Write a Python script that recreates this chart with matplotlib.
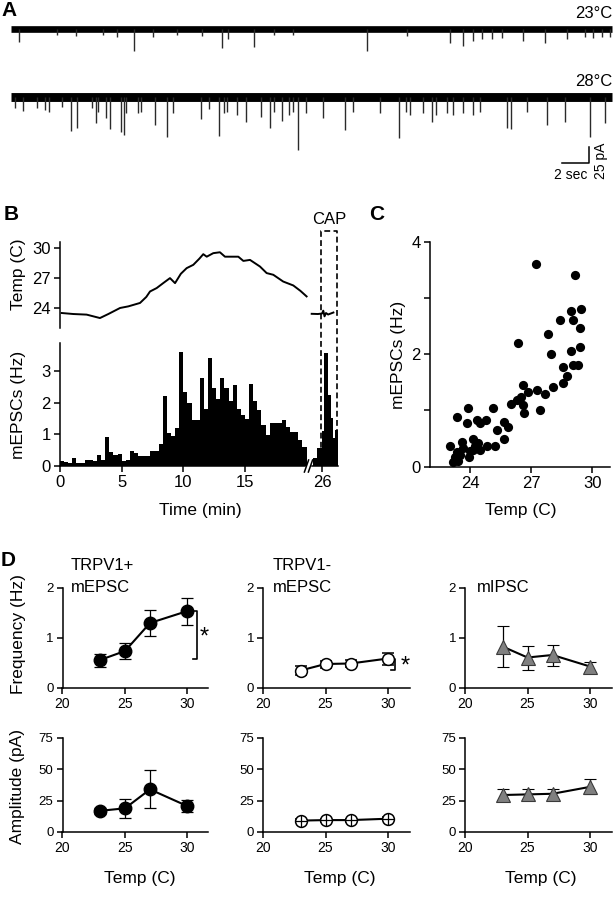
import numpy as np
import matplotlib
matplotlib.use('Agg')
import matplotlib.pyplot as plt

# ------------------------------------------------------------------ data
# Panel A: event times (s) and amplitudes (pA) of the two traces
trace1_event_t = [1.41, 4.22, 5.63, 7.63, 8.67, 9.93, 11.33, 13.11, 14.96, 16.44, 16.89, 18.81,
                  20.30, 21.70, 27.19, 30.15, 33.33, 34.30, 35.04, 35.70, 36.44, 37.19, 38.74,
                  40.37, 42.00, 43.33, 43.93, 44.59, 45.19]
trace1_event_pA = [20, 9, 11, 9, 12.5, 34, 12.5, 9, 11, 30, 16, 28, 9, 9, 34, 11, 22, 27, 19,
                   16, 16, 14, 19, 22, 16, 12.5, 14, 12.5, 12.5]
trace2_event_t = [1.11, 1.70, 2.74, 3.33, 3.63, 4.59, 5.26, 5.70, 6.81, 7.11, 7.26, 7.85,
                  8.15, 8.96, 9.19, 9.33, 10.22, 10.44, 11.48, 12.37, 12.81, 14.89, 15.48, 16.22,
                  16.59, 16.81, 17.56, 18.22, 19.33, 20.00, 20.30, 20.89, 21.41, 21.70, 22.07, 22.67,
                  23.93, 25.56, 26.15, 28.15, 29.56, 30.07, 30.37, 31.33, 32.00, 32.30, 33.11, 33.56,
                  34.30, 35.04, 35.56, 37.56, 37.85, 39.04, 40.52, 41.85, 43.70, 44.81]
trace2_event_pA = [17, 22, 17, 20, 23, 16, 53, 48, 17, 41, 23, 33, 50, 55, 59, 25, 25, 23,
                   44, 62, 25, 34, 19, 61, 25, 23, 28, 39, 31, 48, 23, 37.5, 28, 23, 83, 25,
                   33, 52, 23, 25, 64, 23, 28, 25, 39, 28, 25, 28, 25, 28, 23, 48, 50, 23,
                   44, 39, 62, 41]
trace_span = [0.81, 45.33]          # s
trace_labels = ['23°C', '28°C']

# Panel B: temperature trace (min, C) and mEPSC histogram (Hz, 20-s bins)
temp_t1 = [0.14, 1.08, 2.16, 3.24, 3.92, 4.87, 5.54, 6.49, 7.0, 7.3, 7.84, 8.4, 8.92, 9.33,
           9.8, 10.27, 10.81, 11.3, 11.62, 11.9, 12.43, 12.97, 13.38, 14.46, 14.87, 15.41,
           16.22, 16.76, 17.3, 18.1, 18.92, 19.5, 20.0]
temp_v1 = [23.5, 23.4, 23.34, 23.0, 23.4, 24.0, 24.16, 24.5, 25.1, 25.64, 25.98, 26.5, 26.97,
           26.47, 27.4, 27.96, 28.29, 28.9, 29.35, 29.1, 29.45, 29.54, 29.1, 29.1, 28.68, 28.78,
           28.12, 27.47, 27.3, 26.63, 26.24, 25.7, 25.15]
temp_t2 = [25.14, 25.65, 25.98, 26.08, 26.18, 26.3, 26.47, 26.9]
temp_v2 = [23.42, 23.4, 23.45, 23.73, 23.17, 23.5, 23.35, 23.55]
hist_counts = [0.17, 0.12, 0.10, 0.25, 0.10, 0.10, 0.20, 0.20, 0.15, 0.35, 0.20, 0.90, 0.43,
               0.35, 0.39, 0.17, 0.20, 0.48, 0.40, 0.30, 0.33, 0.33, 0.48, 0.48, 0.68, 2.20,
               1.03, 0.95, 1.19, 3.60, 2.35, 2.00, 1.45, 1.45, 2.77, 1.79, 3.40, 2.45, 2.10,
               2.79, 2.45, 2.05, 2.55, 1.79, 1.61, 1.47, 2.60, 2.05, 1.77, 1.29, 0.98, 1.35,
               1.35, 1.35, 1.45, 1.24, 1.08, 1.08, 0.82, 0.61]
hist_bin = 1 / 3.0
cap_edges = [25.22, 25.57, 25.95, 26.17, 26.44, 26.69, 26.90, 27.03, 27.25]
cap_counts = [0.25, 0.56, 1.10, 3.55, 2.24, 1.50, 0.87, 1.14]
b_xticks = [0, 5, 10, 15, 26]

# Panel C: scatter of mEPSC rate vs temperature
c_temp = [27.24, 29.15, 29.44, 28.94, 28.41, 29.07, 29.39, 27.81, 26.37, 27.96, 29.39, 28.98,
          29.07, 29.31, 28.58, 28.74, 28.54, 28.05, 27.68, 27.27, 26.86, 26.58, 26.50, 26.29,
          26.00, 26.62, 26.66, 27.43, 25.11, 23.92, 23.35, 23.84, 24.33, 24.78, 24.49, 25.31,
          25.67, 25.88, 25.67, 23.59, 24.16, 24.41, 24.82, 25.23, 24.49, 23.02, 23.35, 24.00,
          23.97, 23.27, 23.18, 23.43, 23.51, 24.16, 23.67, 24.25]
c_freq = [3.60, 3.40, 2.80, 2.77, 2.61, 2.61, 2.46, 2.36, 2.20, 2.00, 2.12, 2.06,
          1.80, 1.80, 1.77, 1.62, 1.48, 1.42, 1.30, 1.36, 1.33, 1.45, 1.24, 1.19,
          1.11, 1.10, 0.96, 1.00, 1.05, 1.05, 0.89, 0.77, 0.83, 0.83, 0.77, 0.66,
          0.80, 0.70, 0.50, 0.44, 0.50, 0.43, 0.36, 0.36, 0.30, 0.36, 0.27, 0.28,
          0.17, 0.18, 0.09, 0.11, 0.21, 0.30, 0.33, 0.37]

# Panel D: group means +/- error
d_temps = [23, 25, 27, 30]
pos_freq = [0.56, 0.74, 1.30, 1.54]
pos_freq_err = [0.13, 0.16, 0.26, 0.27]
neg_freq = [0.35, 0.48, 0.49, 0.59]
neg_freq_err = [0.09, 0.07, 0.07, 0.12]
ipsc_freq = [0.83, 0.61, 0.66, 0.43]
ipsc_freq_err = [0.41, 0.24, 0.21, 0.10]
pos_amp = [16.9, 18.9, 34.0, 20.6]
pos_amp_err = [2.5, 7.5, 15.2, 4.7]
neg_amp = [9.1, 9.5, 9.5, 10.6]
neg_amp_err = [1.2, 1.2, 1.2, 1.2]
ipsc_amp = [29.5, 30.0, 30.5, 36.0]
ipsc_amp_err = [5.0, 4.5, 4.0, 6.0]

# ------------------------------------------------------------------ setup
plt.rcParams['font.family'] = ['Liberation Sans', 'DejaVu Sans']
plt.rcParams['axes.linewidth'] = 1.1
W, H = 614, 899
fig = plt.figure(figsize=(W / 100, H / 100), dpi=100)


def add_ax(x0, y0, x1, y1):
    return fig.add_axes([x0 / W, 1 - y1 / H, (x1 - x0) / W, (y1 - y0) / H])


def ftext(x, y, s, **kw):
    kw.setdefault('ha', 'center')
    kw.setdefault('va', 'center')
    fig.text(x / W, 1 - y / H, s, **kw)


def style(ax, size):
    for s in ['top', 'right']:
        ax.spines[s].set_visible(False)
    ax.tick_params(direction='out', length=4.5, width=1.1, labelsize=size, pad=2)


# ------------------------------------------------------------------ panel A
PX_PER_S = 13.5
PX_PER_PA = 0.64
axA = add_ax(0, 0, W, 190)
axA.set_xlim(0, W / PX_PER_S)
axA.set_ylim(-190 / PX_PER_PA, 0)
axA.axis('off')
offsets = [-29 / PX_PER_PA, -97 / PX_PER_PA]
band_lw = [4.8, 6.4]
for off, lw, ts, amps in [(offsets[0], band_lw[0], trace1_event_t, trace1_event_pA),
                          (offsets[1], band_lw[1], trace2_event_t, trace2_event_pA)]:
    axA.plot(trace_span, [off, off], color='k', lw=lw, solid_capstyle='butt')
    axA.vlines(ts, off, off - np.array(amps), color='#2a2a2a', lw=1.0)
ftext(612, 13, trace_labels[0], ha='right', fontsize=12)
ftext(612, 81, trace_labels[1], ha='right', fontsize=12)
# scale bar: 2 s, 25 pA
sb_t = 589 / PX_PER_S
sb_y = -163 / PX_PER_PA
axA.plot([sb_t - 2, sb_t, sb_t], [sb_y, sb_y, sb_y + 25], color='k', lw=1.1)
ftext(571, 175, '2 sec', fontsize=10)
ftext(601, 161, '25 pA', fontsize=10, rotation=90)
ftext(9, 11, 'A', fontsize=15, fontweight='bold')

# ------------------------------------------------------------------ panel B
X0B, X1B = 60, 338
PX_PER_MIN = 12.33
disp_max = (X1B - X0B) / PX_PER_MIN
BREAK_OFFSET = 26 - (322.3 - X0B) / PX_PER_MIN

axT = add_ax(X0B, 241.7, X1B, 328.3)
axT.set_xlim(0, disp_max)
axT.set_ylim(21.98, 30.59)
axT.plot(temp_t1, temp_v1, color='k', lw=1.4)
axT.plot(np.array(temp_t2) - BREAK_OFFSET, temp_v2, color='k', lw=1.4)
style(axT, 12)
axT.spines['bottom'].set_visible(False)
axT.set_xticks([])
axT.set_yticks([24, 27, 30])

axH = add_ax(X0B, 342.7, X1B, 466)
axH.set_xlim(0, disp_max)
axH.set_ylim(0, 3.89)
edges1 = np.arange(len(hist_counts) + 1) * hist_bin
axH.stairs(hist_counts, edges1, fill=True, color='k', zorder=3)
axH.stairs(cap_counts, np.array(cap_edges) - BREAK_OFFSET, fill=True, color='k', zorder=3)
style(axH, 12)
axH.spines['bottom'].set_visible(False)
axH.set_yticks([0, 1, 2, 3])
axH.set_xticks([t if t < 20 else t - BREAK_OFFSET for t in b_xticks])
axH.set_xticklabels([str(t) for t in b_xticks])
# broken x axis
brk1 = (305 - X0B) / PX_PER_MIN
brk2 = (312 - X0B) / PX_PER_MIN
axH.plot([0, brk1], [0, 0], color='k', lw=1.1, clip_on=False, zorder=4)
axH.plot([brk2, disp_max], [0, 0], color='k', lw=1.1, clip_on=False, zorder=4)
for xc in [(306.5 - X0B) / PX_PER_MIN, (310.5 - X0B) / PX_PER_MIN]:
    axH.plot([xc - 0.17, xc + 0.17], [-0.19, 0.19], color='k', lw=1.1, clip_on=False, zorder=4)
# CAP dashed box
bx0 = (321 - X0B) / PX_PER_MIN
bx1 = (336.5 - X0B) / PX_PER_MIN
btop = (466 - 231) / 31.67
axH.plot([bx0, bx0, bx1, bx1], [0, btop, btop, 0], color='k', lw=1.2,
         dashes=(3.5, 2), clip_on=False, zorder=1)
ftext(329, 219, 'CAP', fontsize=12)
ftext(18.5, 274, 'Temp (C)', fontsize=12.5, rotation=90)
ftext(18.5, 405, 'mEPSCs (Hz)', fontsize=12.5, rotation=90)
ftext(200, 511, 'Time (min)', fontsize=12.5)
ftext(11, 215, 'B', fontsize=15, fontweight='bold')

# ------------------------------------------------------------------ panel C
axC = add_ax(430, 241.7, 610, 466.7)
axC.set_xlim(22.04, 30.87)
axC.set_ylim(0, 4)
axC.scatter(c_temp, c_freq, s=44, color='k', linewidths=0, clip_on=False, zorder=3)
style(axC, 12)
axC.set_xticks([24, 27, 30])
axC.set_yticks([0, 1, 2, 3, 4])
axC.set_yticklabels(['0', '', '2', '', '4'])
ftext(399, 355, 'mEPSCs (Hz)', fontsize=12.5, rotation=90)
ftext(521, 511, 'Temp (C)', fontsize=12.5)
ftext(377, 215, 'C', fontsize=15, fontweight='bold')

# ------------------------------------------------------------------ panel D
cols = [(62.5, 208), (263, 410), (465, 611.8)]
rows = [(588, 688), (738, 832)]
PX_PER_C = 12.5
series = [
    [(pos_freq, pos_freq_err), (neg_freq, neg_freq_err), (ipsc_freq, ipsc_freq_err)],
    [(pos_amp, pos_amp_err), (neg_amp, neg_amp_err), (ipsc_amp, ipsc_amp_err)],
]
mstyles = [dict(marker='o', ms=9, mfc='k', mec='k'),
           dict(marker='o', ms=8.5, mfc='white', mec='k', mew=1.1),
           dict(marker='^', ms=10, mfc='#808080', mec='#3a3a3a', mew=0.8)]
axesD = {}
for r, (y0, y1) in enumerate(rows):
    for c, (x0, x1) in enumerate(cols):
        ax = add_ax(x0, y0, x1, y1)
        axesD[(r, c)] = ax
        ax.set_xlim(20, 20 + (x1 - x0) / PX_PER_C)
        vals, errs = series[r][c]
        ax.errorbar(d_temps, vals, yerr=errs, color='k', lw=1.5, elinewidth=0.9,
                    capsize=4, capthick=0.9, clip_on=False, zorder=3, **mstyles[c])
        if r == 1 and c == 1:
            ax.plot(d_temps, vals, linestyle='none', marker='+', ms=8.5, mew=0.9,
                    color='k', zorder=4)
        style(ax, 10)
        ax.tick_params(axis='y', labelsize=9.5)
        ax.set_xticks([20, 25, 30])
        if r == 0:
            ax.set_ylim(0, 2)
            ax.set_yticks([0, 1, 2])
        else:
            ax.set_ylim(0, 75)
            ax.set_yticks([0, 25, 50, 75])

# significance brackets
axp = axesD[(0, 0)]
axp.plot([30.45, 30.8, 30.8, 30.45], [1.54, 1.54, 0.58, 0.58], color='k', lw=1.2, clip_on=False)
axp.text(31.35, 1.0, '*', fontsize=17, ha='center', va='center')
axn = axesD[(0, 1)]
axn.plot([30.2, 30.55, 30.55, 30.2], [0.59, 0.59, 0.37, 0.37], color='k', lw=1.2, clip_on=False)
axn.text(31.4, 0.42, '*', fontsize=17, ha='center', va='center')

ftext(70.5, 565, 'TRPV1+', fontsize=12, ha='left')
ftext(70.5, 587, 'mEPSC', fontsize=12, ha='left')
ftext(272.5, 565, 'TRPV1-', fontsize=12, ha='left')
ftext(272.5, 587, 'mEPSC', fontsize=12, ha='left')
ftext(476.5, 587, 'mIPSC', fontsize=12, ha='left')
ftext(18.5, 634, 'Frequency (Hz)', fontsize=12.5, rotation=90)
ftext(17.5, 786, 'Amplitude (pA)', fontsize=12.5, rotation=90)
for xc in [139.5, 340, 541]:
    ftext(xc, 879, 'Temp (C)', fontsize=12.5)
ftext(8, 560, 'D', fontsize=15, fontweight='bold')

fig.savefig('out.png', dpi=100)
